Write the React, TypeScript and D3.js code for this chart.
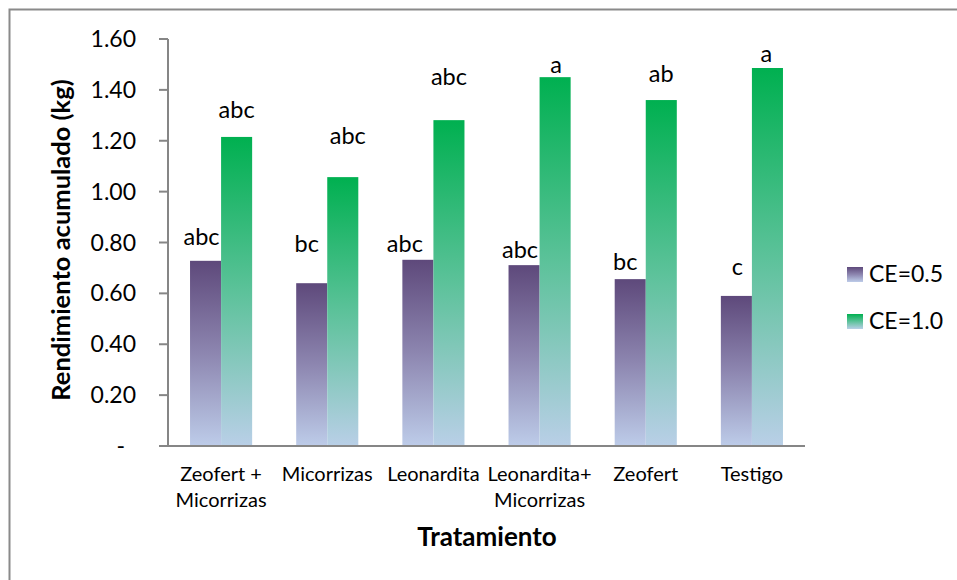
import React from "react";
import * as d3 from "d3";

const categories = [
  ["Zeofert +", "Micorrizas"],
  ["Micorrizas"],
  ["Leonardita"],
  ["Leonardita+", "Micorrizas"],
  ["Zeofert"],
  ["Testigo"],
];
const seriesNames = ["CE=0.5", "CE=1.0"];
const ce05 = [0.728, 0.64, 0.732, 0.711, 0.656, 0.59];
const ce10 = [1.215, 1.057, 1.281, 1.45, 1.36, 1.486];
const labels05 = ["abc", "bc", "abc", "abc", "bc", "c"];
const labels10 = ["abc", "abc", "abc", "a", "ab", "a"];
const yTicks = [0, 0.2, 0.4, 0.6, 0.8, 1.0, 1.2, 1.4, 1.6];

// manual label nudges (as dragged in the original), in px
const nudgeX05 = [-4, -5, -13, -4, -5, 1];
const lift05 = [16, 31, 8, 7, 9, 21];
const nudgeX10 = [0, 5, 0, 1, 0, -1];
const lift10 = [19, 33, 35, 4, 18, 6];

const FONT = "Lato, 'Open Sans', sans-serif";

export default function App() {
  const W = 957, H = 580;
  const x = d3
    .scaleBand<number>()
    .domain(d3.range(categories.length))
    .range([168, 805])
    .paddingInner(0.415)
    .paddingOuter(0.2075);
  const xs = d3.scaleBand<number>().domain([0, 1]).range([0, x.bandwidth()]);
  const y = d3.scaleLinear().domain([0, 1.6]).range([446, 39]);
  const step = x.step();
  const series = [ce05, ce10];
  const labs = [labels05, labels10];
  const nx = [nudgeX05, nudgeX10];
  const ly = [lift05, lift10];
  const grads = ["gPurple", "gGreen"];
  const axisColor = "#868686";

  return (
    <svg
      width={W}
      height={H}
      style={{ position: "absolute", left: 0, top: 0, background: "#fff" }}
      fontFamily={FONT}
    >
      <defs>
        <linearGradient id="gPurple" x1="0" y1="0" x2="0" y2="1">
          <stop offset="0" stopColor="#5e497b" />
          <stop offset="0.5" stopColor="#8d86b0" />
          <stop offset="1" stopColor="#bdcce9" />
        </linearGradient>
        <linearGradient id="gGreen" x1="0" y1="0" x2="0" y2="1">
          <stop offset="0" stopColor="#00b050" />
          <stop offset="0.5" stopColor="#5cc29a" />
          <stop offset="1" stopColor="#b9cfe7" />
        </linearGradient>
      </defs>
      <rect x={9.5} y={9.5} width={1000} height={700} fill="none" stroke="#8a8a8a" strokeWidth={2} />

      {/* bars */}
      {series.map((vals, si) =>
        vals.map((v, i) => (
          <rect
            key={`b${si}-${i}`}
            x={(x(i) as number) + (xs(si) as number)}
            y={y(v)}
            width={xs.bandwidth()}
            height={y(0) - y(v)}
            fill={`url(#${grads[si]})`}
          />
        ))
      )}

      {/* data labels */}
      {series.map((vals, si) =>
        vals.map((v, i) => (
          <text
            key={`l${si}-${i}`}
            x={(x(i) as number) + (xs(si) as number) + xs.bandwidth() / 2 + nx[si][i]}
            y={y(v) - ly[si][i]}
            textAnchor="middle"
            fontSize={23.5}
            fill="#000"
          >
            {labs[si][i]}
          </text>
        ))
      )}

      {/* y axis */}
      <line x1={168} x2={168} y1={y(1.6)} y2={y(0)} stroke={axisColor} strokeWidth={2} />
      {yTicks.map((t) => (
        <g key={`t${t}`}>
          <line x1={159} x2={168} y1={y(t)} y2={y(t)} stroke={axisColor} strokeWidth={2} />
          <text
            x={t === 0 ? 125 : 136}
            y={y(t)}
            dy="0.35em"
            textAnchor="end"
            fontSize={23}
            fill="#000"
          >
            {t === 0 ? "-" : d3.format(".2f")(t)}
          </text>
        </g>
      ))}
      {/* x axis */}
      <line x1={159} x2={168 + step * categories.length} y1={y(0)} y2={y(0)} stroke={axisColor} strokeWidth={2} />
      {categories.map((lines, i) => (
        <text
          key={`c${i}`}
          x={(x(i) as number) + x.bandwidth() / 2}
          y={481}
          textAnchor="middle"
          fontSize={20}
          fill="#000"
        >
          {lines.map((ln, k) => (
            <tspan key={k} x={(x(i) as number) + x.bandwidth() / 2} dy={k === 0 ? 0 : 26}>
              {ln}
            </tspan>
          ))}
        </text>
      ))}

      {/* axis titles */}
      <text
        transform={`translate(70,240) rotate(-90)`}
        textAnchor="middle"
        fontSize={25.5}
        fontWeight="bold"
        fill="#000"
      >
        Rendimiento acumulado (kg)
      </text>
      <text x={487} y={546} textAnchor="middle" fontSize={26} fontWeight="bold" fill="#000">
        Tratamiento
      </text>

      {/* legend */}
      {seriesNames.map((n, si) => (
        <g key={n} transform={`translate(847,${274 + si * 47})`}>
          <rect x={0} y={-7} width={16} height={15} fill={`url(#${grads[si]})`} />
          <text x={22} y={0} dy="0.35em" fontSize={23} fill="#000">
            {n}
          </text>
        </g>
      ))}
    </svg>
  );
}
